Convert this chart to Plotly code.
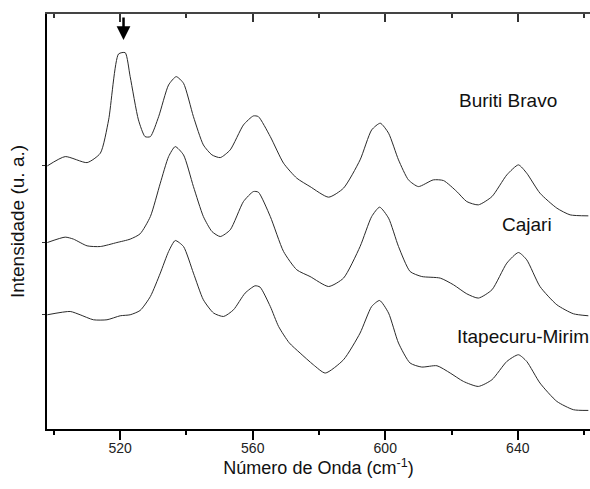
import plotly.graph_objects as go

# Wavenumber (cm^-1) and intensity (a.u., stacked) for each sample
x_buriti = [498, 503.4, 510.0, 514.0, 516.5, 519.5, 521.5, 523.0, 525.5, 527.5, 529.1, 531.6,
            534.6, 536.9, 539.1, 542.1, 545.1, 547.7, 550.2, 553.2, 557.2, 560.2, 561.7, 565.3,
            569.3, 573.3, 577.3, 582.9, 587.4, 592.4, 595.9, 598.5, 601.0, 604.0, 607.0, 610.0,
            614.5, 617.6, 621.6, 624.6, 628.1, 632.2, 636.7, 640.2, 642.7, 646.7, 651.8, 655.8, 661.3]
y_buriti = [263.3, 272.6, 266.6, 276.0, 309.3, 375.3, 376.6, 352.6, 309.3, 292.6, 292.6, 312.6,
            344.3, 352.6, 346.0, 312.6, 284.3, 274.3, 271.6, 279.3, 304.3, 313.3, 312.6, 292.6,
            266.0, 251.0, 242.6, 232.0, 241.0, 269.3, 299.3, 306.0, 296.0, 269.3, 249.3, 242.6,
            249.3, 248.6, 237.6, 227.6, 224.3, 232.6, 254.3, 264.3, 256.0, 236.0, 221.0, 214.3, 213.3]

x_cajari = [498, 503.4, 505.9, 510.0, 514.0, 519.0, 523.0, 526.0, 529.1, 532.1, 534.6, 536.6,
            539.1, 542.1, 545.1, 547.7, 550.2, 553.2, 557.2, 560.2, 561.7, 565.3, 569.3, 573.3,
            577.3, 582.9, 587.4, 592.4, 595.9, 598.3, 601.0, 604.0, 607.5, 611.0, 616.6, 620.6,
            624.6, 628.1, 632.2, 636.7, 640.2, 642.7, 646.7, 651.8, 656.8, 661.3]
y_cajari = [186.6, 192.0, 190.0, 183.3, 182.6, 186.6, 190.0, 195.3, 212.6, 246.0, 272.6, 282.6,
            274.3, 242.6, 212.6, 197.6, 192.6, 199.3, 227.6, 237.6, 237.0, 212.6, 177.6, 159.3,
            152.6, 142.6, 151.0, 182.6, 212.6, 222.0, 211.0, 182.6, 157.6, 152.6, 151.0, 144.3,
            135.3, 131.0, 139.3, 166.0, 176.6, 169.3, 142.6, 124.3, 115.3, 113.3]

x_itap = [498, 504.9, 507.9, 511.9, 516.0, 520.0, 523.0, 526.0, 529.1, 532.1, 534.6, 536.6,
          539.1, 542.1, 545.1, 548.2, 551.2, 554.2, 557.7, 560.7, 562.2, 565.3, 567.8, 571.0,
          574.3, 578.3, 581.9, 587.4, 592.4, 595.9, 598.3, 601.0, 604.0, 607.5, 611.0, 615.6,
          619.6, 623.6, 628.1, 632.2, 636.7, 640.2, 642.7, 646.7, 651.8, 656.8, 661.3]
y_itap = [114.3, 117.6, 114.3, 109.3, 109.3, 113.3, 114.3, 118.6, 132.6, 156.0, 177.6, 188.6,
          182.6, 156.0, 129.3, 116.0, 112.6, 119.3, 136.0, 143.3, 142.0, 122.6, 102.6, 86.3,
          76.0, 64.3, 56.0, 69.3, 96.0, 122.6, 128.6, 116.0, 86.0, 66.0, 62.0, 63.3,
          56.0, 47.6, 42.6, 49.3, 67.6, 74.3, 67.6, 46.0, 27.6, 19.3, 18.6]

labels = ["Buriti Bravo", "Cajari", "Itapecuru-Mirim"]
label_pos = [(637.1, 328.3), (642.7, 205.0), (641.5, 92.6)]
major_ticks = [520, 560, 600, 640]
minor_ticks = [500, 540, 580, 620, 660]
arrow_x = 521

FONT = "Arial, Liberation Sans, Helvetica, sans-serif"
XR = [497.9, 661.8]
YR = [0, 415.3]

fig = go.Figure()
for xs, ys in [(x_buriti, y_buriti), (x_cajari, y_cajari), (x_itap, y_itap)]:
    fig.add_trace(go.Scatter(x=xs, y=ys, mode="lines",
                             line=dict(color="#2a2a2a", width=1, shape="spline", smoothing=0.6),
                             showlegend=False, hoverinfo="skip"))
# invisible trace to render the top mirror axis
fig.add_trace(go.Scatter(x=x_buriti, y=y_buriti, xaxis="x2", mode="lines",
                         line=dict(width=0), showlegend=False, hoverinfo="skip"))

for (lx, ly), t in zip(label_pos, labels):
    fig.add_annotation(x=lx, y=ly, text=t, showarrow=False,
                       font=dict(family=FONT, size=19, color="#111"))

fig.add_annotation(x=arrow_x, y=389.3, ax=0, ay=-24, text="", showarrow=True,
                   arrowhead=2, arrowsize=1.1, arrowwidth=2.5, arrowcolor="#000")

fig.update_layout(
    width=590, height=489,
    margin=dict(l=47, r=0, t=14, b=60),
    paper_bgcolor="white", plot_bgcolor="white",
    font=dict(family=FONT, color="#111"),
    xaxis=dict(range=XR, showline=True, linecolor="#000", linewidth=2, automargin=False,
               tickvals=major_ticks, ticks="outside", ticklen=9, tickwidth=1.5, tickcolor="#000",
               minor=dict(tickvals=minor_ticks, ticks="outside", ticklen=4, tickwidth=1.5, tickcolor="#000"),
               tickfont=dict(size=14, color="#222"), ticklabelstandoff=-4,
               showgrid=False, zeroline=False,
               title=dict(text="Número de Onda (cm<sup>-1</sup>)", font=dict(size=18, color="#111"), standoff=6)),
    xaxis2=dict(range=XR, overlaying="x", side="top", showline=True, linecolor="#444", linewidth=2,
                automargin=False,
                tickvals=major_ticks, ticks="inside", ticklen=8, tickwidth=1.5, tickcolor="#333",
                minor=dict(tickvals=minor_ticks, ticks="inside", ticklen=4, tickwidth=1.5, tickcolor="#333"),
                showticklabels=False, showgrid=False, zeroline=False),
    yaxis=dict(range=YR, showline=True, linecolor="#000", linewidth=2, automargin=False,
               tickvals=[y_buriti[0], y_cajari[0], y_itap[0]], ticks="outside", ticklen=3,
               tickwidth=1, tickcolor="#333", showticklabels=False, showgrid=False, zeroline=False,
               title=dict(text="Intensidade (u. a.)", font=dict(size=19, color="#111"), standoff=12)),
)

# remove the default page margin so the figure fills the window exactly
fig.write_html("out.html", config={"displayModeBar": False},
               post_script="document.body.style.margin='0px';document.body.style.overflow='hidden';")
